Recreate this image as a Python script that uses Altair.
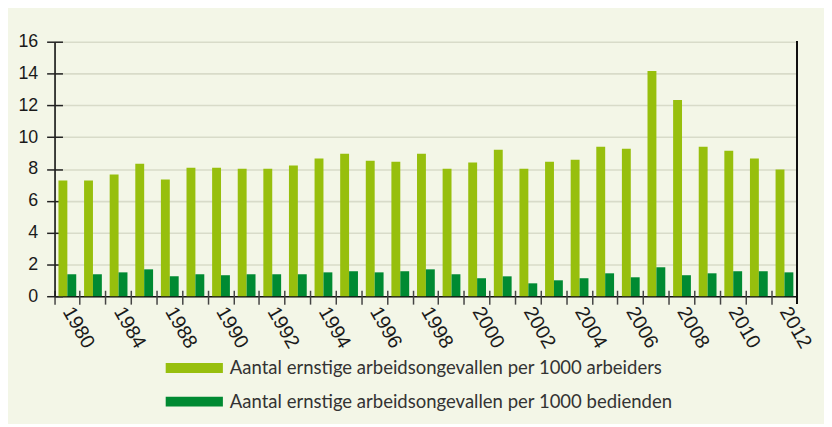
import altair as alt
import pandas as pd

years = ["1980", "1982", "1984", "1986"] + [str(y) for y in range(1988, 2013)]
labeled_years = years[::2]

series_names = [
    "Aantal ernstige arbeidsongevallen per 1000 arbeiders",
    "Aantal ernstige arbeidsongevallen per 1000 bedienden",
]

arbeiders = [7.27, 7.27, 7.65, 8.33, 7.33, 8.08, 8.08, 8.02, 8.02, 8.21,
             8.65, 8.96, 8.52, 8.46, 8.96, 8.02, 8.40, 9.21, 8.02, 8.46,
             8.58, 9.40, 9.27, 14.16, 12.34, 9.40, 9.15, 8.65, 7.96]
bedienden = [1.38, 1.38, 1.50, 1.69, 1.25, 1.38, 1.32, 1.38, 1.38, 1.38,
             1.50, 1.57, 1.50, 1.57, 1.69, 1.38, 1.13, 1.25, 0.81, 1.00,
             1.13, 1.44, 1.19, 1.82, 1.32, 1.44, 1.57, 1.57, 1.50]

colors = ["#97bf0d", "#008a32"]
y_ticks = list(range(0, 17, 2))

rows = []
for i, yr in enumerate(years):
    rows.append({"year": yr, "series": series_names[0], "value": arbeiders[i]})
    rows.append({"year": yr, "series": series_names[1], "value": bedienden[i]})
df = pd.DataFrame(rows)

W, H = 750, 257
FONT = "Liberation Sans"

xscale = alt.Scale(paddingInner=0, paddingOuter=0)
yscale = alt.Scale(domain=[0, 16], nice=False)

bars = alt.Chart(df).mark_bar().encode(
    x=alt.X("year:N", sort=years, scale=xscale,
            axis=alt.Axis(orient="bottom", values=labeled_years, labelAngle=60,
                          labelAlign="left", labelBaseline="middle",
                          labelFont=FONT, labelFontSize=20, labelColor="#1a1a1a",
                          labelPadding=12, ticks=False, domain=True,
                          domainColor="#111111", domainWidth=1.6, grid=False,
                          title=None)),
    xOffset=alt.XOffset("series:N", sort=series_names,
                        scale=alt.Scale(paddingInner=0, paddingOuter=0.44)),
    y=alt.Y("value:Q", scale=yscale,
            axis=alt.Axis(orient="left", values=y_ticks, labelFont=FONT,
                          labelFontSize=18, labelColor="#1a1a1a", labelPadding=17,
                          ticks=False, domain=True, domainColor="#111111",
                          domainWidth=1.6, grid=True, gridColor="#d8dbc9",
                          gridWidth=1.6, title=None)),
    color=alt.Color("series:N", sort=series_names,
                    scale=alt.Scale(domain=series_names, range=colors),
                    legend=alt.Legend(orient="none", legendX=112, legendY=320,
                                      title=None, padding=0,
                                      symbolType="M-1,-0.172L1,-0.172L1,0.172L-1,0.172Z",
                                      symbolSize=3364, symbolStrokeWidth=0,
                                      labelFont="Lato",
                                      labelFontSize=18.7, labelColor="#333333",
                                      labelOffset=7, clipHeight=19, rowPadding=14,
                                      labelLimit=600)),
)

tick_layer = alt.Chart(df).mark_bar(opacity=0).encode(
    x=alt.X("year:N", sort=years, scale=xscale,
            axis=alt.Axis(orient="bottom", bandPosition=0, labels=False,
                          ticks=True, tickSize=14, tickColor="#444444",
                          tickWidth=1.5, domain=False, offset=-6, grid=False,
                          title=None)),
    y=alt.Y("value:Q", scale=yscale,
            axis=alt.Axis(orient="left", values=y_ticks, labels=False,
                          ticks=True, tickSize=16, tickColor="#222222",
                          tickWidth=1.5, domain=False, offset=-8, grid=False,
                          title=None)),
)

right_line = alt.Chart(df).mark_rule(color="#111111", strokeWidth=1.4).encode(
    x=alt.value(W), y=alt.value(0), y2=alt.value(H + 7)
)

chart = alt.layer(bars, tick_layer, right_line).resolve_axis(
    x="independent", y="independent"
).properties(
    width=W, height=H,
    padding={"left": 47, "top": 32, "right": 27, "bottom": 127},
    autosize=alt.AutoSizeParams(type="none"),
    background="#f3f6e7",
).configure_view(stroke=None)

chart.save("out.html", embed_options={"renderer": "svg", "actions": False})
